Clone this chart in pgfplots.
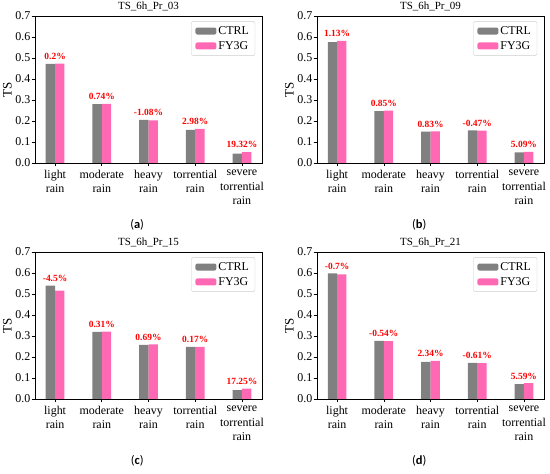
\documentclass[border=0pt]{standalone}
\usepackage{fontspec}
\setmainfont{Liberation Serif}
\newfontfamily\capfont{Carlito}
\usepackage{pgfplots}
\pgfplotsset{compat=1.18}
\definecolor{ctrl}{RGB}{128,128,128}
\definecolor{fy}{RGB}{255,105,180}
\definecolor{ann}{RGB}{255,0,0}
\pgfplotsset{
  panel/.style={
    scale only axis, width=227bp, height=147bp,
    xmin=-0.43, xmax=4.43, ymin=0, ymax=0.7,
    ytick={0,0.1,0.2,0.3,0.4,0.5,0.6,0.7},
    /pgf/number format/assume math mode=true,
    yticklabel style={/pgf/number format/fixed,/pgf/number format/fixed zerofill,/pgf/number format/precision=1,font=\fontsize{12}{14}\selectfont,inner xsep=1bp},
    xtick={0,1,2,3,4},
    xticklabels={light\\rain,moderate\\rain,heavy\\rain,torrential\\rain,severe\\torrential\\rain},
    xticklabel style={align=center,font=\fontsize{12}{14.5}\selectfont,anchor=north},
    tick align=outside, xtick pos=bottom, ytick pos=left,
    major tick length=3.5bp,
    tick style={black,line width=0.6bp},
    axis line style={line width=0.6bp},
    ylabel={TS},
    ylabel style={font=\fontsize{13}{15}\selectfont},
    ylabel shift=-1bp,
    title style={font=\fontsize{11}{13}\selectfont,yshift=-4bp},
    clip=false,
    legend style={at={(0.97,0.965)},anchor=north east,draw=black!20,rounded corners=2bp,
      font=\fontsize{12}{14}\selectfont,row sep=1.5bp,inner xsep=4bp,inner ysep=3bp},
    legend cell align=left,
    legend image code/.code={\fill[##1] (0bp,-3.5bp) rectangle (21bp,3.5bp);},
  },
  ctrlbar/.style={ybar,bar width=0.2,bar shift=-0.1,fill=ctrl,draw=none},
  fybar/.style={ybar,bar width=0.2,bar shift=0.1,fill=fy,draw=none},
  annot/.style={draw=none,mark=none,forget plot,nodes near coords,point meta=explicit symbolic,
    nodes near coords style={text=ann,font=\bfseries\fontsize{9.5}{11}\selectfont,anchor=south,yshift=0.5bp}},
}
\newcommand\sublabel[1]{\node[font=\capfont\fontsize{12.5}{14}\selectfont] at ([yshift=-62bp]rel axis cs:0.45,0) {(\textbf{#1})};}
\begin{document}
\begin{tikzpicture}[x=1bp,y=1bp]
\useasboundingbox (0,0) rectangle (550,474);
% (a)
\begin{axis}[panel,at={(35bp,311bp)},anchor=south west,title={TS\_6h\_Pr\_03}]
\addplot[ctrlbar] coordinates {(0,0.472) (1,0.280) (2,0.205) (3,0.158) (4,0.044)};
\addplot[fybar] coordinates {(0,0.473) (1,0.282) (2,0.203) (3,0.163) (4,0.052)};
\addplot[annot] coordinates {(0,0.473)[0.2\%] (1,0.282)[0.74\%] (2,0.205)[-1.08\%] (3,0.163)[2.98\%] (4,0.052)[19.32\%]};
\legend{CTRL,FY3G}
\sublabel{a}
\end{axis}
% (b)
\begin{axis}[panel,at={(317bp,311bp)},anchor=south west,title={TS\_6h\_Pr\_09}]
\addplot[ctrlbar] coordinates {(0,0.576) (1,0.247) (2,0.149) (3,0.155) (4,0.050)};
\addplot[fybar] coordinates {(0,0.582) (1,0.249) (2,0.150) (3,0.154) (4,0.053)};
\addplot[annot] coordinates {(0,0.582)[1.13\%] (1,0.249)[0.85\%] (2,0.150)[0.83\%] (3,0.155)[-0.47\%] (4,0.053)[5.09\%]};
\legend{CTRL,FY3G}
\sublabel{b}
\end{axis}
% (c)
\begin{axis}[panel,at={(35bp,75bp)},anchor=south west,title={TS\_6h\_Pr\_15}]
\addplot[ctrlbar] coordinates {(0,0.540) (1,0.320) (2,0.258) (3,0.248) (4,0.042)};
\addplot[fybar] coordinates {(0,0.516) (1,0.321) (2,0.260) (3,0.248) (4,0.049)};
\addplot[annot] coordinates {(0,0.540)[-4.5\%] (1,0.321)[0.31\%] (2,0.260)[0.69\%] (3,0.248)[0.17\%] (4,0.049)[17.25\%]};
\legend{CTRL,FY3G}
\sublabel{c}
\end{axis}
% (d)
\begin{axis}[panel,at={(317bp,75bp)},anchor=south west,title={TS\_6h\_Pr\_21}]
\addplot[ctrlbar] coordinates {(0,0.598) (1,0.277) (2,0.177) (3,0.172) (4,0.071)};
\addplot[fybar] coordinates {(0,0.594) (1,0.276) (2,0.181) (3,0.171) (4,0.075)};
\addplot[annot] coordinates {(0,0.598)[-0.7\%] (1,0.277)[-0.54\%] (2,0.181)[2.34\%] (3,0.172)[-0.61\%] (4,0.075)[5.59\%]};
\legend{CTRL,FY3G}
\sublabel{d}
\end{axis}
\end{tikzpicture}
\end{document}
